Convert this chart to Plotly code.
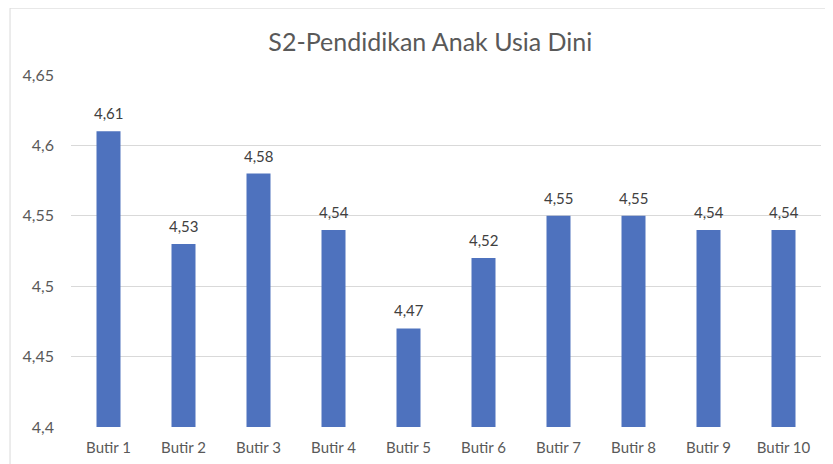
import plotly.graph_objects as go

categories = ["Butir 1", "Butir 2", "Butir 3", "Butir 4", "Butir 5",
              "Butir 6", "Butir 7", "Butir 8", "Butir 9", "Butir 10"]
values = [4.61, 4.53, 4.58, 4.54, 4.47, 4.52, 4.55, 4.55, 4.54, 4.54]
y_ticks = [4.4, 4.45, 4.5, 4.55, 4.6, 4.65]

FONT = "Lato, 'Open Sans', sans-serif"

fig = go.Figure(go.Bar(
    x=categories, y=values,
    marker=dict(color="#4E72BE", line=dict(width=0)),
    cliponaxis=False,
))

for c, v in zip(categories, values):
    fig.add_annotation(x=c, y=v, text=f"{v:.2f}".replace(".", ","),
                       showarrow=False, yanchor="bottom", yshift=7,
                       font=dict(family=FONT, size=15, color="#404040"))

fig.update_layout(
    width=833, height=464,
    margin=dict(l=63, r=20, t=67, b=45, autoexpand=False),
    paper_bgcolor="white", plot_bgcolor="white",
    separators=",.",
    bargap=0.68,
    showlegend=False,
    title=dict(text="S2-Pendidikan Anak Usia Dini", x=0.507, xref="container",
               y=0.927, yref="container", xanchor="center", yanchor="middle",
               font=dict(family=FONT, size=25, color="#595959")),
    xaxis=dict(showgrid=False, showline=False, ticks="", ticklabelstandoff=10,
               automargin=False,
               tickfont=dict(family=FONT, size=15, color="#595959")),
    yaxis=dict(range=[4.4, 4.65], tickvals=y_ticks, showgrid=True,
               gridcolor="#D9D9D9", gridwidth=1, zeroline=False,
               showline=False, ticks="", ticklabelstandoff=16, automargin=False,
               tickfont=dict(family=FONT, size=16, color="#595959")),
    shapes=[dict(type="rect", xref="paper", yref="paper",
                 x0=-0.0813, x1=1.05, y0=-0.2, y1=1.19,
                 line=dict(color="#D9D9D9", width=1), layer="below")],
)

fig.write_html("out.html")
